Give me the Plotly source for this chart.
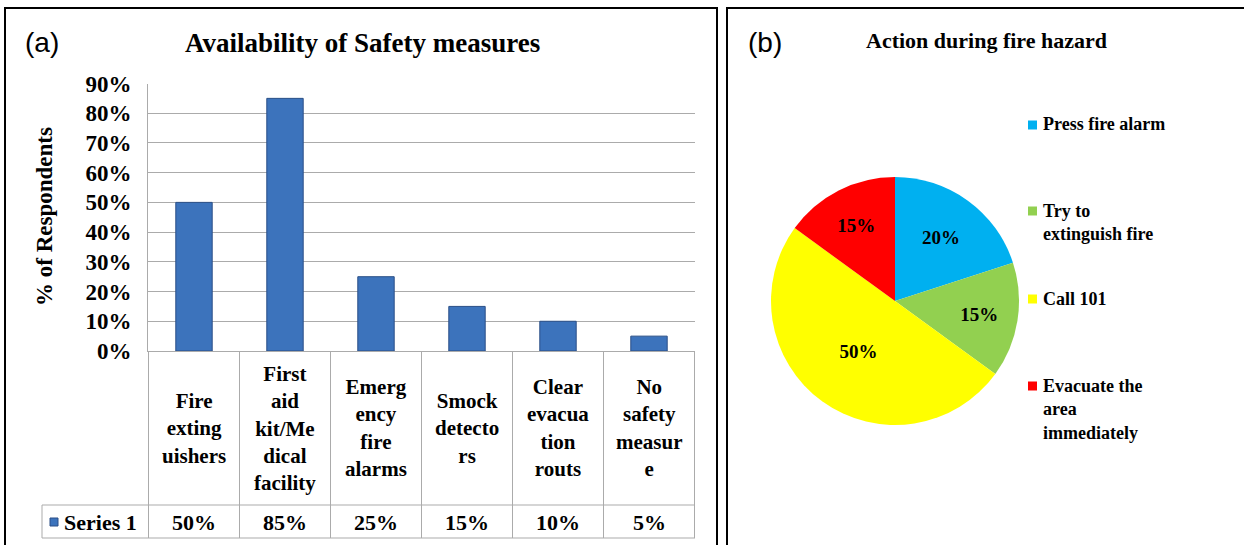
import plotly.graph_objects as go

# ---------------- data ----------------
bar_categories = ["Fire extinguishers", "First aid kit/Medical facility",
                  "Emergency fire alarms", "Smock detectors",
                  "Clear evacuation routs", "No safety measure"]
bar_category_labels = ["Fire<br>exting<br>uishers", "First<br>aid<br>kit/Me<br>dical<br>facility",
                       "Emerg<br>ency<br>fire<br>alarms", "Smock<br>detecto<br>rs",
                       "Clear<br>evacua<br>tion<br>routs", "No<br>safety<br>measur<br>e"]
bar_values = [50, 85, 25, 15, 10, 5]
bar_series_name = "Series 1"
y_ticks = [0, 10, 20, 30, 40, 50, 60, 70, 80, 90]

pie_labels = ["Press fire alarm", "Try to extinguish fire", "Call 101",
              "Evacuate the area immediately"]
pie_legend_text = ["Press fire alarm", "Try to<br>extinguish fire", "Call 101",
                   "Evacuate the<br>area<br>immediately"]
pie_values = [20, 15, 50, 15]
pie_colors = ["#00B0F0", "#92D050", "#FFFF00", "#FF0000"]

# ---------------- layout helpers ----------------
W, H = 1244, 545
def X(px):
    return px / W
def Y(py):
    return 1 - py / H

SERIF = "Liberation Serif"
SANS = "Liberation Sans"
GRID = "#ABABAB"

fig = go.Figure()

fig.add_trace(go.Bar(
    x=bar_categories, y=bar_values, name=bar_series_name,
    width=0.4,
    marker=dict(color="#3C73BC", line=dict(color="#2A4F87", width=1)),
    xaxis="x", yaxis="y", showlegend=False, hoverinfo="x+y",
))

fig.add_trace(go.Pie(
    labels=pie_labels, values=pie_values, sort=False, direction="clockwise",
    rotation=0,
    marker=dict(colors=pie_colors, line=dict(width=0)),
    texttemplate="<b>%{value}%</b>", textposition="inside",
    insidetextorientation="horizontal",
    textfont=dict(family=SERIF, size=19, color="black"),
    domain=dict(x=[X(771), X(1019)], y=[Y(425), Y(177)]),
    showlegend=False, automargin=False,
))

annotations = []
shapes = []

def note(text, x, y, size, family=SERIF, xref="paper", xanchor="center",
         yanchor="middle", angle=0, align="center"):
    annotations.append(dict(text=text, x=x, y=y, xref=xref, yref="paper",
                            showarrow=False, xanchor=xanchor, yanchor=yanchor,
                            textangle=angle, align=align,
                            font=dict(family=family, size=size, color="black")))

# panel borders
shapes.append(dict(type="rect", xref="paper", yref="paper",
                   x0=X(5), x1=X(717), y0=Y(560), y1=Y(8),
                   line=dict(color="black", width=2)))
shapes.append(dict(type="rect", xref="paper", yref="paper",
                   x0=X(727), x1=X(1260), y0=Y(560), y1=Y(8),
                   line=dict(color="black", width=2)))

# panel letters and titles
note("(a)", X(42), Y(42), 28, family=SANS)
note("<b>Availability of Safety measures</b>", X(362), Y(43), 27)
note("(b)", X(765), Y(42), 28, family=SANS)
note("<b>Action during fire hazard</b>", X(986), Y(40), 22)

# y-axis title
note("<b>% of Respondents</b>", X(45), Y(217), 23, angle=-90)

# data table under bars
n = len(bar_categories)
for i in range(n + 1):
    shapes.append(dict(type="line", xref="x", yref="paper", x0=i - 0.5, x1=i - 0.5,
                       y0=Y(538), y1=Y(351), line=dict(color=GRID, width=1)))
for py in (505, 538):
    shapes.append(dict(type="line", xref="paper", yref="paper", x0=X(42), x1=X(695),
                       y0=Y(py), y1=Y(py), line=dict(color=GRID, width=1)))
shapes.append(dict(type="line", xref="paper", yref="paper", x0=X(42), x1=X(42),
                   y0=Y(538), y1=Y(505), line=dict(color=GRID, width=1)))

for cat, lab, v in zip(bar_categories, bar_category_labels, bar_values):
    note("<b>" + lab + "</b>", cat, Y(428), 21, xref="x")
    note("<b>%d%%</b>" % v, cat, Y(522), 22, xref="x")

# series legend key in table
shapes.append(dict(type="rect", xref="paper", yref="paper", x0=X(50), x1=X(58),
                   y0=Y(526), y1=Y(518), fillcolor="#3C73BC",
                   line=dict(color="#2A4F87", width=1)))
note("<b>" + bar_series_name + "</b>", X(62), Y(522), 22, xanchor="left")

# pie legend
legend_y = [125, 211, 299, 386]
for txt, col, py in zip(pie_legend_text, pie_colors, legend_y):
    shapes.append(dict(type="rect", xref="paper", yref="paper", x0=X(1028), x1=X(1037),
                       y0=Y(py + 4.5), y1=Y(py - 4.5), fillcolor=col, line=dict(width=0)))
    note("<b>" + txt + "</b>", X(1041), Y(py - 12.5), 18, xanchor="left",
         yanchor="top", align="left")

fig.update_layout(
    width=W, height=H, autosize=False,
    margin=dict(l=0, r=0, t=0, b=0, pad=0),
    paper_bgcolor="white", plot_bgcolor="white",
    showlegend=False,
    xaxis=dict(domain=[X(148), X(695)], anchor="y", showticklabels=False,
               showline=True, linecolor=GRID, linewidth=1, showgrid=False,
               zeroline=False, ticks="", automargin=False),
    yaxis=dict(domain=[Y(351), Y(83.5)], anchor="x", range=[0, 90],
               tickvals=y_ticks, ticktext=["%d%%" % t for t in y_ticks],
               showline=True, linecolor=GRID, linewidth=1,
               showgrid=True, gridcolor=GRID, gridwidth=1, zeroline=False,
               ticks="", ticklabelstandoff=11, automargin=False,
               tickfont=dict(family=SERIF, size=23, color="black", weight="bold")),
    annotations=annotations,
    shapes=shapes,
)

fig.write_html("out.html",
               config={"displayModeBar": False},
               post_script="document.body.style.margin='0';document.body.style.overflow='hidden';")
